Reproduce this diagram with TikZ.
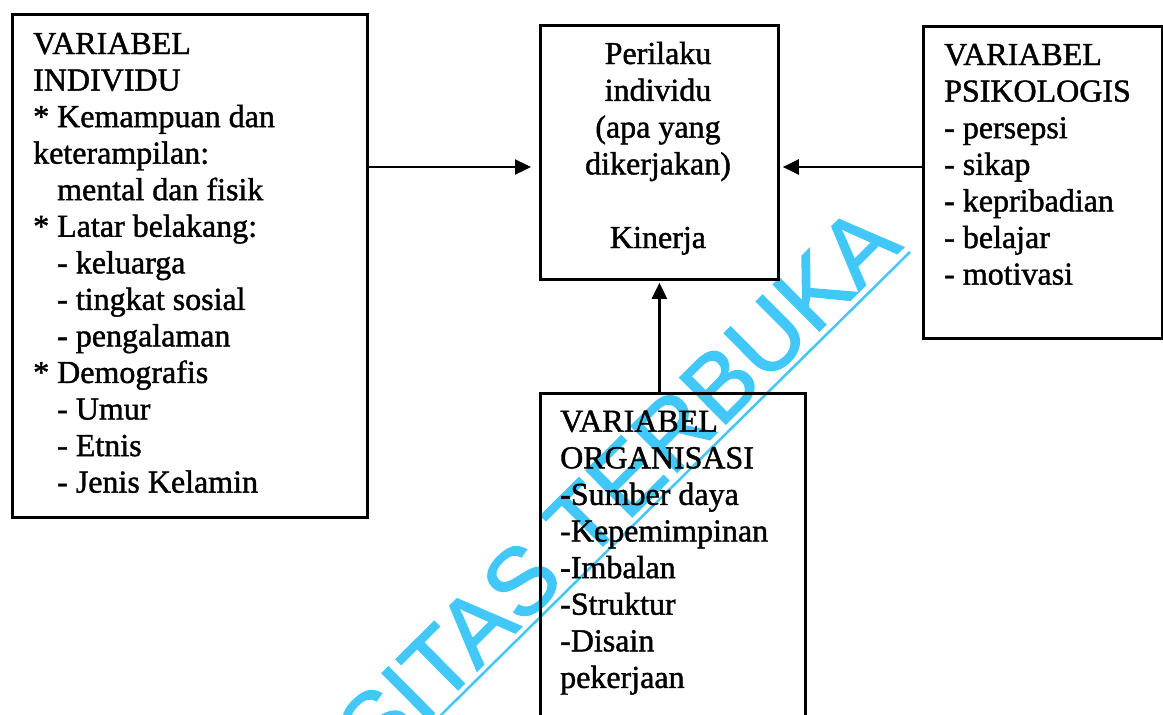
\documentclass[tikz,border=0pt]{standalone}
\usepackage{fontspec}
\setmainfont{Liberation Serif}
\newfontfamily\bodyfont{Liberation Serif}[FakeBold=1.3]
\newfontfamily\wmfont{Liberation Sans}[FakeBold=1.5]
\usetikzlibrary{arrows.meta}
\definecolor{wmcyan}{RGB}{66,200,248}
\begin{document}
\begin{tikzpicture}[x=1pt,y=-1pt,
  box/.style={draw,line width=2.8pt,inner sep=0pt,anchor=north west},
  txt/.style={anchor=base west,inner sep=0pt,font=\bodyfont\fontsize{32}{36.6}\selectfont},
  ctxt/.style={anchor=base,inner sep=0pt,font=\bodyfont\fontsize{32}{36.6}\selectfont},
  arr/.style={line width=2.4pt,-{Triangle[length=16pt,width=15pt]}},
  wmtext/.style={text=wmcyan,inner sep=0pt,rotate=44.8,anchor=base east,
    font=\wmfont\fontsize{95}{95}\selectfont},
  wmline/.style={draw=wmcyan,line width=2.5pt}]
\useasboundingbox (0,0) rectangle (1163,715);
\fill[white] (0,0) rectangle (1163,715);
% watermark
\begin{scope}
\clip (0,0) rectangle (1163,715);
\node[wmtext] (wm) at (904,247) {SITAS TERBUKA};
\coordinate (wl1) at (438,718);
\coordinate (wl2) at (910,252);
\draw[wmline] (wl1) -- (wl2);
% boxes
\node[box,minimum width=355pt,minimum height=503pt] (ind) at (11,13) {};
\node[box,minimum width=238pt,minimum height=254pt] (per) at (539,24) {};
\node[box,minimum width=239pt,minimum height=312pt] (psi) at (922,25) {};
\node[box,minimum width=265pt,minimum height=345pt] (org) at (539,392) {};
\end{scope}
% texts
\foreach \x/\t [count=\i from 0] in {33/VARIABEL, 33/INDIVIDU, 33/* Kemampuan dan,
  33/keterampilan:, 57/mental dan fisik, 33/* Latar belakang:, 57/- keluarga,
  57/- tingkat sosial, 57/- pengalaman, 33/* Demografis, 57/- Umur, 57/- Etnis,
  57/- Jenis Kelamin}
  \node[txt] (ind-\i) at (\x,54+36.55*\i) {\t};
\foreach \y/\t [count=\i from 0] in {64/Perilaku, 100.8/individu, 137.6/(apa yang,
  174.4/dikerjakan), 248/Kinerja}
  \node[ctxt] (per-\i) at (658,\y) {\t};
\foreach \t [count=\i from 0] in {VARIABEL, PSIKOLOGIS, - persepsi, - sikap,
  - kepribadian, - belajar, - motivasi}
  \node[txt] (psi-\i) at (944,65+36.6*\i) {\t};
\foreach \t [count=\i from 0] in {VARIABEL, ORGANISASI, -Sumber daya,
  -Kepemimpinan, -Imbalan, -Struktur, -Disain, pekerjaan}
  \node[txt] (org-\i) at (560,431.7+36.6*\i) {\t};
% connectors
\coordinate (ay) at (0,167);
\draw[arr,shorten >=8pt] (ind.east |- ay) -- (per.west |- ay);
\draw[arr,shorten >=3pt] (psi.west |- ay) -- (per.east |- ay);
\draw[arr,shorten >=2pt] (org.north -| per.south) -- (per.south);
\end{tikzpicture}
\end{document}
